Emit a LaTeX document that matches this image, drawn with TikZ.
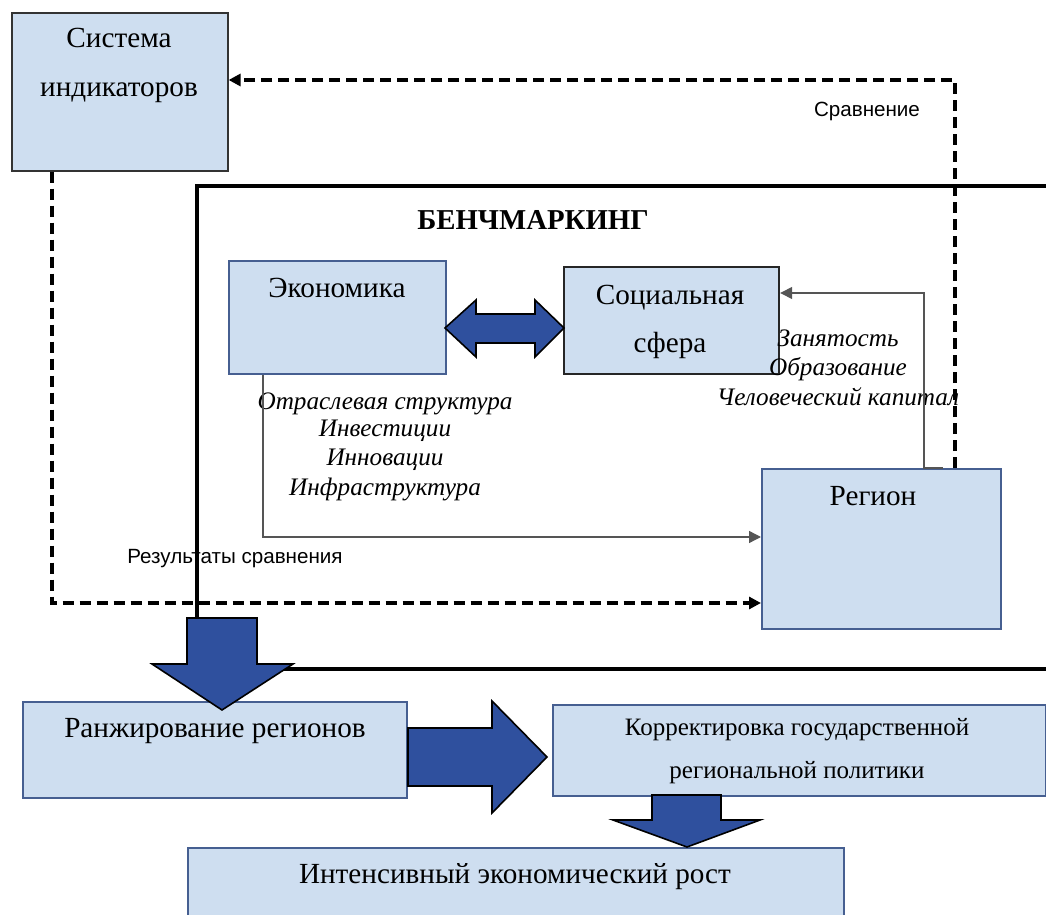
\documentclass[tikz,border=0pt]{standalone}
\usepackage{fontspec}
\setmainfont{Liberation Serif}
\setsansfont{Liberation Sans}
\usetikzlibrary{arrows.meta}
\definecolor{boxfill}{RGB}{206,222,240}
\definecolor{boxedge}{RGB}{70,95,145}
\definecolor{arrowblue}{RGB}{47,80,158}
\definecolor{thingray}{RGB}{85,85,85}

\begin{document}
\begin{tikzpicture}[x=0.5pt, y=-0.5pt,
    box/.style={draw=#1, fill=boxfill, line width=0.8pt, anchor=north west, inner sep=0pt},
    box/.default=boxedge,
    txt/.style={anchor=base, inner sep=0pt, font=\fontsize{14.6}{16}\selectfont},
    txtsmall/.style={anchor=base, inner sep=0pt, font=\fontsize{12.5}{14}\selectfont},
    txtit/.style={anchor=base, inner sep=0pt, font=\fontsize{12.6}{14}\selectfont\itshape},
    txtsans/.style={anchor=base, inner sep=0pt, font=\sffamily\fontsize{10.3}{12}\selectfont},
    blockarrow/.style={draw=black, fill=arrowblue, line width=0.8pt, line join=miter},
    dashline/.style={line width=2pt, dash pattern=on 5.5pt off 3pt, -{Triangle[length=6pt,width=6pt]}},
    thinline/.style={draw=thingray, line width=0.7pt, -{Triangle[length=6pt,width=6pt]}},
    frameline/.style={line width=1.8pt}]
	\useasboundingbox (0,0) rectangle (1046,915);
	\clip (0,0) rectangle (1046,915);
	% benchmarking frame, open to the right
	\draw[frameline] (197,186) rectangle (1080,669);
	\node[font=\fontsize{14.4}{16}\selectfont\bfseries, anchor=base, inner sep=0pt] (bench) at (533,230) {БЕНЧМАРКИНГ};
	% boxes
	\node[box=black!80, minimum width=108pt, minimum height=79pt] (sys) at (11,12) {};
	\node[box, minimum width=108.5pt, minimum height=56.5pt] (eco) at (228,260) {};
	\node[box=black!85, line width=1.1pt, minimum width=107.5pt, minimum height=53.5pt] (soc) at (563,266) {};
	\node[box, minimum width=119.5pt, minimum height=80pt] (reg) at (761,468) {};
	\node[box, minimum width=192pt, minimum height=48pt] (rank) at (22,701) {};
	\node[box, minimum width=246.5pt, minimum height=45.5pt] (corr) at (552,704) {};
	\node[box, minimum width=328pt, minimum height=40pt] (grow) at (187,847) {};
	% texts in the boxes
	\node[txt] (sys1) at (119,48) {Система};
	\node[txt] (sys2) at (119,97) {индикаторов};
	\node[txt] (eco1) at (337,298) {Экономика};
	\node[txt] (soc1) at (670,305) {Социальная};
	\node[txt] (soc2) at (670,352) {сфера};
	\node[txt] (reg1) at (873,505) {Регион};
	\node[txt] (rank1) at (215,737) {Ранжирование регионов};
	\node[txtsmall] (corr1) at (797,735) {Корректировка государственной};
	\node[txtsmall] (corr2) at (797,778) {региональной политики};
	\node[txt] (grow1) at (515,883) {Интенсивный экономический рост};
	% factors
	\foreach \t/\y in {Отраслевая структура/409, Инвестиции/437, Инновации/466, Инфраструктура/495}
		{
			\node[txtit] at (385,\y) {\t};
		}
	\foreach \t/\y in {Занятость/347, Образование/376, Человеческий капитал/405}
		{
			\node[txtit] at (838,\y) {\t};
		}
	% connectors
	\coordinate (cmp) at (955,80);
	\coordinate (res) at (52,603);
	\coordinate (ecotap) at (263,537);
	\coordinate (soctap) at (924,293);
	\draw[dashline] (reg.north -| cmp) |- (sys.east |- cmp);
	\draw[dashline] (sys.south -| res) |- (reg.west |- res);
	\draw[thinline] (eco.south -| ecotap) |- (reg.west |- ecotap);
	\draw[thinline] ([xshift=9.5pt]reg.north -| soctap) -- (reg.north -| soctap) |- (soc.east |- soctap);
	\node[txtsans] (cmplbl) at (867,117) {Сравнение};
	\node[txtsans] (reslbl) at (235,563) {Результаты сравнения};
	% block arrows
	\draw[blockarrow] (445,328) -- (476,300) -- (476,314) -- (535,314) -- (535,300) -- (564,328)
		-- (535,357) -- (535,343) -- (476,343) -- (476,357) -- cycle;
	\draw[blockarrow] (187,618) -- (257,618) -- (257,664) -- (293,664) -- (222,710) -- (152,664) -- (187,664) -- cycle;
	\draw[blockarrow] (408,728) -- (492,728) -- (492,701) -- (547,757) -- (492,813) -- (492,786) -- (408,786) -- cycle;
	\draw[blockarrow] (652,795) -- (721,795) -- (721,820) -- (760,820) -- (687,847) -- (613,820) -- (652,820) -- cycle;
\end{tikzpicture}
\end{document}
